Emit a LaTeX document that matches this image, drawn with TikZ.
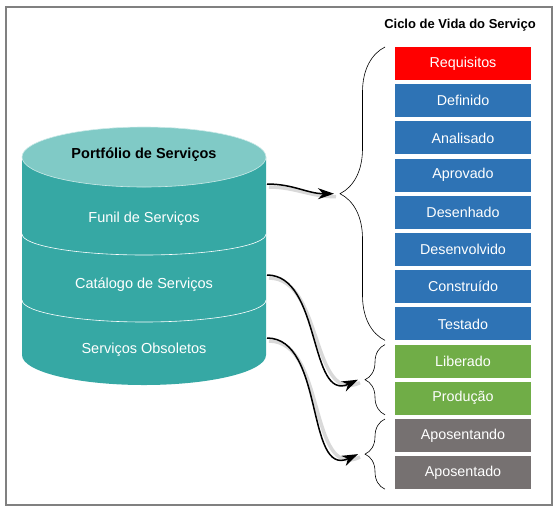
\documentclass[tikz,border=0pt]{standalone}
\usepackage{fontspec}
\setmainfont{Liberation Sans}
\usetikzlibrary{positioning,arrows.meta,decorations.pathreplacing}

\definecolor{tealtop}{HTML}{80CAC6}
\definecolor{tealbody}{HTML}{36A8A4}
\definecolor{stageblue}{HTML}{2E73B5}
\definecolor{stagegreen}{HTML}{70AD47}
\definecolor{stagegray}{HTML}{767171}

\tikzset{
  stage/.style={minimum width=136pt, minimum height=33pt, inner sep=0pt, outer sep=0pt,
    text=white, font=\fontsize{14.3}{17}\selectfont},
  layertext/.style={text=white, font=\fontsize{14.5}{17}\selectfont},
  lifebrace/.style={decorate, decoration={brace, amplitude=#1}, line width=.6pt},
  flow/.style={-{Stealth[length=16pt,width=11pt,inset=5pt]}, line width=1.5pt},
  flowshadow/.style={line width=3.5pt, black!25, opacity=.6}
}

\begin{document}
\begin{tikzpicture}[x=1pt,y=-1pt,node distance=4.2pt]
\useasboundingbox (0,0) rectangle (559,512);
\draw[black!50, line width=2pt] (6,7) rectangle (552,505);

% cylinder
\fill[tealbody] (22,157) -- (22,355)
  arc[start angle=180, end angle=0, x radius=122, y radius=30] -- (266,157) -- cycle;
\draw[white, line width=.6pt] (22,234) arc[start angle=180, end angle=0, x radius=122, y radius=21];
\draw[white, line width=.6pt] (22,300) arc[start angle=180, end angle=0, x radius=122, y radius=22];
\filldraw[fill=tealtop, draw=white!60!tealtop, line width=.6pt] (144,157) ellipse[x radius=122, y radius=30];

\node[font=\bfseries\fontsize{14.5}{17}\selectfont] (portfolio) at (144,155) {Portfólio de Serviços};
\node[layertext] (funil) at (144,219) {Funil de Serviços};
\node[layertext] (catalogo) at (144,285) {Catálogo de Serviços};
\node[layertext] (obsoletos) at (144,350) {Serviços Obsoletos};

% ciclo de vida
\node[font=\bfseries\fontsize{13}{15}\selectfont] (titulo) at (460,25) {Ciclo de Vida do Serviço};
\node[stage, fill=red] (req) at (463,63.5) {Requisitos};
\node[stage, fill=stageblue, below=of req] (def) {Definido};
\node[stage, fill=stageblue, below=of def] (ana) {Analisado};
\node[stage, fill=stageblue, below=of ana] (apr) {Aprovado};
\node[stage, fill=stageblue, below=of apr] (des) {Desenhado};
\node[stage, fill=stageblue, below=of des] (dvl) {Desenvolvido};
\node[stage, fill=stageblue, below=of dvl] (con) {Construído};
\node[stage, fill=stageblue, below=of con] (tes) {Testado};
\node[stage, fill=stagegreen, below=of tes] (lib) {Liberado};
\node[stage, fill=stagegreen, below=of lib] (pro) {Produção};
\node[stage, fill=stagegray, below=of pro] (apn) {Aposentando};
\node[stage, fill=stagegray, below=of apn] (apd) {Aposentado};

% chaves
\draw[lifebrace=45pt] ([xshift=-10pt]tes.south west) -- ([xshift=-10pt]req.north west)
  coordinate[pos=.5, xshift=-51pt] (e1);
\draw[lifebrace=20pt] ([xshift=-10pt]pro.south west) -- ([xshift=-10pt]lib.north west)
  coordinate[pos=.5, xshift=-27pt] (e2);
\draw[lifebrace=20pt] ([xshift=-10pt]apd.south west) -- ([xshift=-10pt]apn.north west)
  coordinate[pos=.5, xshift=-27pt] (e3);

% setas
\coordinate (s1) at (267,184);
\coordinate (s2) at (267,275);
\coordinate (s3) at (267,338);
\foreach \s/\e/\a in {s1/e1/180, s2/e2/205, s3/e3/205}{
  \draw[flowshadow, transform canvas={shift={(2pt,-3pt)}}] (\s) to[out=0, in=\a] (\e);
  \draw[flow] (\s) to[out=0, in=\a] (\e);
}
\end{tikzpicture}
\end{document}
